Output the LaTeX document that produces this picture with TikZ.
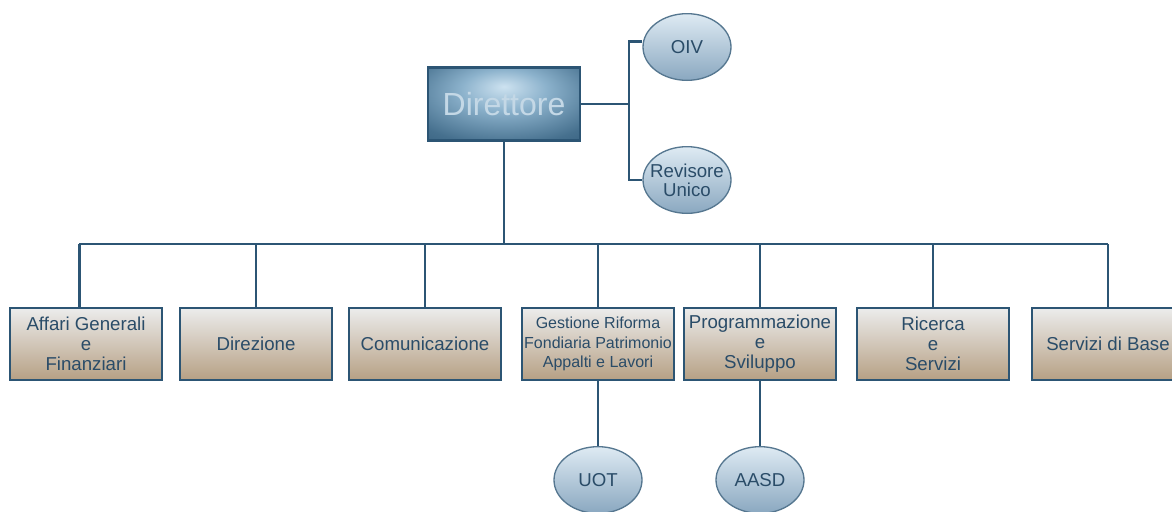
\documentclass[tikz,border=0pt]{standalone}
\usepackage{fontspec}
\setmainfont{Liberation Sans}
\usepackage{xcolor}
\usepackage{tikz}
\usetikzlibrary{
    shapes.geometric,
    positioning,
    calc
}
\definecolor{lineBlue}{RGB}{44,85,116}
\definecolor{textBlue}{RGB}{42,76,104}
\definecolor{headLight}{RGB}{205,226,240}
\definecolor{headMid}{RGB}{140,178,204}
\definecolor{headDark}{RGB}{70,112,142}
\definecolor{headText}{RGB}{196,216,230}
\definecolor{boxTop}{RGB}{236,236,236}
\definecolor{boxBottom}{RGB}{182,160,132}
\definecolor{bubbleTop}{RGB}{222,234,243}
\definecolor{bubbleBottom}{RGB}{138,168,192}

\pgfdeclareradialshading{headglow}{\pgfpoint{0bp}{12bp}}{
    color(0bp)=(headLight);
    color(14bp)=(headMid);
    color(34bp)=(headDark);
    color(50bp)=(lineBlue);
    color(70bp)=(lineBlue)
}

\begin{document}
\begin{tikzpicture}[
    x=0.75pt,
    y=-0.75pt,
    link/.style={
        draw=lineBlue,
        line width=2pt
    },
    headbox/.style={
        draw=lineBlue,
        line width=2pt,
        shading=headglow,
        minimum width=114pt,
        minimum height=55pt,
        inner sep=0pt,
        text=headText,
        font=\fontsize{24}{28}\selectfont
    },
    unitbox/.style={
        draw=lineBlue,
        line width=1.6pt,
        top color=boxTop,
        bottom color=boxBottom,
        minimum width=114pt,
        minimum height=54pt,
        inner sep=0pt,
        align=center,
        text=textBlue,
        font=\fontsize{14}{15}\selectfont
    },
    bubble/.style={
        ellipse,
        draw=lineBlue!80,
        line width=1pt,
        top color=bubbleTop,
        bottom color=bubbleBottom,
        minimum width=66pt,
        minimum height=50pt,
        inner sep=-6pt,
        align=center,
        text=textBlue,
        font=\fontsize{14}{14}\selectfont
    }
]

\useasboundingbox (0,0) rectangle (1172,511);
\clip (0,0) rectangle (1172,511);

% =============================================================
% Top: director and control bodies
% =============================================================

\node[headbox] (dir) at (504,104) {Direttore};

\node[bubble] (oiv) at (687,47) {OIV};

\node[bubble] (rev) at (687,180) {Revisore\\Unico};

\coordinate (split) at (629,104);

\draw[link] (dir.east) -- (split);
\draw[link] (split) |- ([yshift=4pt]oiv.west);
\draw[link] (split) |- (rev.west);

% =============================================================
% Bottom: offices
% =============================================================

\node[unitbox] (aff)  at (86,344)   {Affari Generali\\e\\Finanziari};
\node[unitbox] (dirz) at (256,344)  {Direzione};
\node[unitbox] (com)  at (425,344)  {Comunicazione};
\node[
    unitbox,
    font=\fontsize{12}{14.6}\selectfont
] (gest) at (598,344)
{Gestione Riforma\\Fondiaria Patrimonio\\Appalti e Lavori};
\node[unitbox] (prog) at (760,344)  {Programmazione\\e\\Sviluppo};
\node[unitbox] (ric)  at (933,344)  {Ricerca\\e\\Servizi};
\node[unitbox] (serv) at (1108,344) {Servizi di Base};

% Bus from the director
\coordinate (bus) at (504,244);
\coordinate (affTop) at ([xshift=-5pt]aff.north);

\draw[link] (dir.south) -- (bus);
\draw[link] (affTop |- bus) -- (serv.north |- bus);
\draw[link] (affTop |- bus) -- (affTop);

\foreach \u in {dirz,com,gest,prog,ric,serv}{
    \draw[link] (\u.north |- bus) -- (\u.north);
}

% Field units
\node[bubble] (uot)  at (598,480) {UOT};
\node[bubble] (aasd) at (760,480) {AASD};

\draw[link] (gest.south) -- (uot.north);
\draw[link] (prog.south) -- (aasd.north);

\end{tikzpicture}
\end{document}
